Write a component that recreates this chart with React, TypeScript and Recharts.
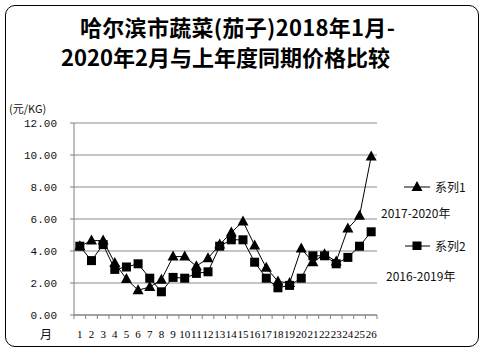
import React from "react";
import {
  LineChart,
  Line,
  XAxis,
  YAxis,
  CartesianGrid,
} from "recharts";

const months = [
  "1", "2", "3", "4", "5", "6", "7", "8", "9", "10", "11", "12", "13",
  "14", "15", "16", "17", "18", "19", "20", "21", "22", "23", "24", "25", "26",
];

// 2017-2020年
const series1 = [
  4.3, 4.65, 4.65, 3.25, 2.25, 1.55, 1.75, 2.2, 3.65, 3.65, 3.05, 3.55, 4.4,
  5.15, 5.85, 4.35, 2.95, 2.1, 2.0, 4.15, 3.3, 3.8, 3.35, 5.4, 6.2, 9.9,
];

// 2016-2019年
const series2 = [
  4.3, 3.4, 4.4, 2.85, 3.0, 3.2, 2.3, 1.45, 2.35, 2.3, 2.6, 2.7, 4.3,
  4.7, 4.7, 3.3, 2.3, 1.7, 1.85, 2.3, 3.7, 3.7, 3.2, 3.6, 4.3, 5.2,
];

const yTicks = [0, 2, 4, 6, 8, 10, 12];

const data = months.map((m, i) => ({
  month: m,
  s1: series1[i],
  s2: series2[i],
}));

const BAND = 303 / 26;

const Triangle = (props: any) => {
  const { cx, cy } = props;
  if (cx == null || cy == null) return null;
  return (
    <polygon
      points={`${cx},${cy - 6} ${cx - 5.5},${cy + 4} ${cx + 5.5},${cy + 4}`}
      fill="#000"
    />
  );
};

const Square = (props: any) => {
  const { cx, cy } = props;
  if (cx == null || cy == null) return null;
  return <rect x={cx - 4.5} y={cy - 4.5} width={9} height={9} fill="#000" />;
};

const MonthTick = (props: any) => {
  const { x, y, payload, index } = props;
  const left = x - BAND / 2;
  return (
    <g>
      <line x1={left} y1={y - 8} x2={left} y2={y - 4} stroke="#808080" />
      {index === months.length - 1 && (
        <line
          x1={x + BAND / 2}
          y1={y - 8}
          x2={x + BAND / 2}
          y2={y - 4}
          stroke="#808080"
        />
      )}
      <text
        x={x}
        y={y + 15}
        textAnchor="middle"
        fontSize={11}
        fontFamily="Liberation Serif"
        fill="#000"
      >
        {payload.value}
      </text>
    </g>
  );
};

const legendText: React.CSSProperties = {
  position: "absolute",
  fontFamily: "'Noto Sans CJK SC', 'Noto Sans', sans-serif",
  fontSize: 12,
  color: "#111",
  whiteSpace: "nowrap",
  lineHeight: "14px",
};

const titleStyle: React.CSSProperties = {
  position: "absolute",
  fontFamily: "'Noto Sans CJK SC', sans-serif",
  fontWeight: 700,
  fontSize: 22,
  lineHeight: "28px",
  whiteSpace: "nowrap",
  color: "#000",
};

export default function App() {
  return (
    <div
      style={{
        position: "absolute",
        left: 0,
        top: 0,
        width: 485,
        height: 353,
        background: "#fff",
      }}
    >
      <div
        style={{
          position: "absolute",
          left: 5,
          top: 5,
          width: 472,
          height: 340,
          border: "1px solid #000",
          borderRadius: 10,
        }}
      />

      <div style={{ ...titleStyle, left: 80, top: 12, letterSpacing: 0.3 }}>
        哈尔滨市蔬菜(茄子)2018年1月-
      </div>
      <div style={{ ...titleStyle, left: 61, top: 42 }}>
        2020年2月与上年度同期价格比较
      </div>

      <div style={{ ...legendText, left: 9, top: 101, fontSize: 11 }}>
        (元/KG)
      </div>
      <div style={{ ...legendText, left: 40, top: 327, fontSize: 12 }}>月</div>

      <div style={{ position: "absolute", left: 0, top: 0 }}>
        <LineChart
          width={485}
          height={353}
          data={data}
          margin={{ top: 123, right: 108, bottom: 0, left: 0 }}
        >
          <CartesianGrid vertical={false} stroke="#8c8c8c" />
          <XAxis
            dataKey="month"
            height={38}
            interval={0}
            stroke="#808080"
            tickLine={false}
            padding={{ left: BAND / 2, right: BAND / 2 }}
            tick={<MonthTick />}
          />
          <YAxis
            width={74}
            domain={[0, 12]}
            ticks={yTicks}
            interval={0}
            stroke="#808080"
            tickSize={4}
            tickMargin={13}
            tickFormatter={(v: number) => v.toFixed(2)}
            tick={{
              fontSize: 11,
              fontFamily: "Liberation Mono",
              fill: "#111",
            }}
          />
          <Line
            dataKey="s1"
            stroke="#000"
            strokeWidth={1}
            dot={<Triangle />}
            isAnimationActive={false}
          />
          <Line
            dataKey="s2"
            stroke="#000"
            strokeWidth={1}
            dot={<Square />}
            isAnimationActive={false}
          />
        </LineChart>
      </div>

      <svg
        style={{ position: "absolute", left: 404, top: 180 }}
        width={28}
        height={70}
      >
        <line x1={0} y1={7} x2={26} y2={7} stroke="#000" />
        <polygon points="13,1 7.5,11 18.5,11" fill="#000" />
        <line x1={1} y1={66} x2={26} y2={66} stroke="#000" />
        <rect x={8.5} y={61.5} width={9} height={9} fill="#000" />
      </svg>
      <div style={{ ...legendText, left: 435, top: 180 }}>系列1</div>
      <div style={{ ...legendText, left: 381, top: 206 }}>2017-2020年</div>
      <div style={{ ...legendText, left: 435, top: 239 }}>系列2</div>
      <div style={{ ...legendText, left: 386, top: 269 }}>2016-2019年</div>
    </div>
  );
}
